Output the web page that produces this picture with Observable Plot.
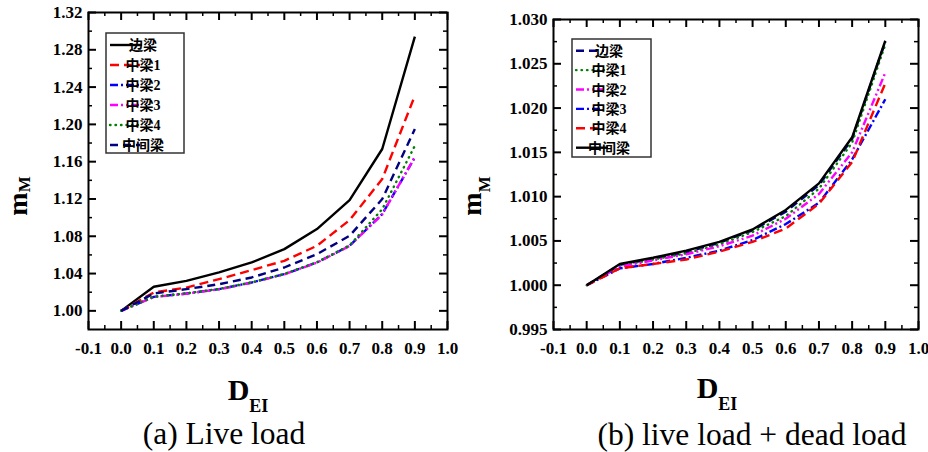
<!DOCTYPE html>
<html><head><meta charset="utf-8">
<script src="https://cdn.jsdelivr.net/npm/d3@7"></script>
<script src="https://cdn.jsdelivr.net/npm/@observablehq/plot@0.6"></script>
<style>
body{margin:0;background:#fff;}
#wrap{position:relative;width:928px;height:452px;overflow:hidden;background:#fff;}
.panel{position:absolute;top:0;width:464px;height:452px;}
</style></head><body>
<div id="wrap"><div class="panel" id="pa" style="left:0"></div><div class="panel" id="pb" style="left:464px"></div></div>
<script>
// ---- data ----
const xValues = [0, 0.1, 0.2, 0.3, 0.4, 0.5, 0.6, 0.7, 0.8, 0.9];
const names = ["边梁", "中梁1", "中梁2", "中梁3", "中梁4", "中间梁"];

// (a) Live load
const a_bian  = [1.000, 1.0258, 1.0322, 1.0412, 1.0519, 1.0662, 1.0877, 1.1188, 1.1736, 1.2942];
const a_zl1   = [1.000, 1.0197, 1.0250, 1.0340, 1.0437, 1.0537, 1.0698, 1.0973, 1.1414, 1.2308];
const a_zl2   = [1.000, 1.0150, 1.0186, 1.0233, 1.0304, 1.0394, 1.0519, 1.0698, 1.1038, 1.1646];
const a_zl3   = [1.000, 1.0148, 1.0184, 1.0231, 1.0302, 1.0392, 1.0517, 1.0696, 1.1035, 1.1650];
const a_zl4   = [1.000, 1.0152, 1.0188, 1.0235, 1.0306, 1.0396, 1.0521, 1.0702, 1.1090, 1.1770];
const a_zj    = [1.000, 1.0186, 1.0233, 1.0286, 1.0358, 1.0465, 1.0608, 1.0805, 1.1199, 1.1951];

// (b) live load + dead load
const b_bian  = [1.000, 1.0023, 1.0030, 1.0037, 1.0048, 1.0062, 1.0083, 1.0113, 1.0165, 1.0275];
const b_zl1   = [1.000, 1.0022, 1.0029, 1.0036, 1.0046, 1.0060, 1.0078, 1.0109, 1.0161, 1.0272];
const b_zl2   = [1.000, 1.0021, 1.0028, 1.0035, 1.0044, 1.0056, 1.0075, 1.0103, 1.0150, 1.0240];
const b_zl3   = [1.000, 1.0019, 1.0024, 1.0031, 1.0039, 1.0051, 1.0069, 1.0093, 1.0142, 1.0210];
const b_zl4   = [1.000, 1.0019, 1.0024, 1.0029, 1.0038, 1.0049, 1.0064, 1.0092, 1.0139, 1.0228];
const b_zj    = [1.000, 1.0024, 1.0031, 1.0039, 1.0049, 1.0063, 1.0085, 1.0115, 1.0167, 1.0276];

const xTicks = [-0.1, 0, 0.1, 0.2, 0.3, 0.4, 0.5, 0.6, 0.7, 0.8, 0.9, 1.0];
const xMinor = [-0.05, 0.05, 0.15, 0.25, 0.35, 0.45, 0.55, 0.65, 0.75, 0.85, 0.95];
const aYTicks = [1.00, 1.04, 1.08, 1.12, 1.16, 1.20, 1.24, 1.28, 1.32];
const aYMinor = [1.02, 1.06, 1.10, 1.14, 1.18, 1.22, 1.26, 1.30];
const bYTicks = [0.995, 1.000, 1.005, 1.010, 1.015, 1.020, 1.025, 1.030];
const bYMinor = [0.9975, 1.0025, 1.0075, 1.0125, 1.0175, 1.0225, 1.0275];

// styles
const S = {
  black:   {stroke: "#000000", dash: null},
  red:     {stroke: "#ff0000", dash: "9,5"},
  blue:    {stroke: "#0000ff", dash: "8,3,2,3"},
  magenta: {stroke: "#ff00ff", dash: "8,3,2,3,2,3"},
  green:   {stroke: "#008000", dash: "0.5,5"},
  navy:    {stroke: "#000080", dash: "8,5"}
};

const panelA = {
  el: "#pa", W: 464, H: 452, mL: 88, mR: 17, mT: 12, mB: 123,
  yDomain: [0.98, 1.32], yTicks: aYTicks, yMinor: aYMinor, yFmt: d => d.toFixed(2),
  series: [[a_bian, "black"], [a_zl1, "red"], [a_zl2, "blue"], [a_zl3, "magenta"], [a_zl4, "green"], [a_zj, "navy"]],
  legend: {x: 106, y: 33, w: 78, h: 120, row0: 45, step: 20, lx1: 110, lx2: 140, tx: 142},
  ylab: {x: 27, y: 196, sub: 3}, xlab: {x: 248, y: 400}, cap: {x: 224, y: 444, text: "(a) Live load"}
};
const panelB = {
  el: "#pb", W: 464, H: 452, mL: 89, mR: 10, mT: 19, mB: 123,
  yDomain: [0.995, 1.030], yTicks: bYTicks, yMinor: bYMinor, yFmt: d => d.toFixed(3),
  series: [[b_bian, "navy"], [b_zl1, "green"], [b_zl2, "magenta"], [b_zl3, "blue"], [b_zl4, "red"], [b_zj, "black"]],
  legend: {x: 108, y: 39, w: 79, h: 118, row0: 50.7, step: 19.4, lx1: 112, lx2: 140, tx: 144},
  ylab: {x: 17, y: 196, sub: 9}, xlab: {x: 253, y: 398}, cap: {x: 288, y: 445, text: "(b) live load + dead load"}
};

function draw(p) {
  const iw = p.W - p.mL - p.mR, ih = p.H - p.mT - p.mB;
  const major = 8, minor = 4;
  const lines = p.series.map(([vals, st], i) => {
    const data = xValues.map((x, j) => ({x, y: vals[j]}));
    return Plot.line(data, {x: "x", y: "y", stroke: S[st].stroke, strokeWidth: 2.4,
      strokeDasharray: S[st].dash, strokeLinecap: st === "green" ? "round" : "butt", strokeLinejoin: "round"});
  });
  const tk = {stroke: "black"};
  const marks = [
    ...lines,
    Plot.tickX(xTicks, {x: d => d, insetTop: ih - major, strokeWidth: 2, ...tk}),
    Plot.tickX(xTicks, {x: d => d, insetBottom: ih - major, strokeWidth: 2, ...tk}),
    Plot.tickX(xMinor, {x: d => d, insetTop: ih - minor, strokeWidth: 1.5, ...tk}),
    Plot.tickX(xMinor, {x: d => d, insetBottom: ih - minor, strokeWidth: 1.5, ...tk}),
    Plot.tickY(p.yTicks, {y: d => d, insetRight: iw - major, strokeWidth: 2, ...tk}),
    Plot.tickY(p.yTicks, {y: d => d, insetLeft: iw - major, strokeWidth: 2, ...tk}),
    Plot.tickY(p.yMinor, {y: d => d, insetRight: iw - minor, strokeWidth: 1.5, ...tk}),
    Plot.tickY(p.yMinor, {y: d => d, insetLeft: iw - minor, strokeWidth: 1.5, ...tk}),
    Plot.frame({stroke: "black", strokeWidth: 2}),
    Plot.axisX(xTicks, {tickSize: 0, tickPadding: 12, tickFormat: d => d.toFixed(1), fontSize: 17, fontWeight: "bold", fill: "black", label: null}),
    Plot.axisY(p.yTicks, {tickSize: 0, tickPadding: 6, tickFormat: p.yFmt, fontSize: 17, fontWeight: "bold", fill: "black", label: null})
  ];
  const svg = Plot.plot({
    width: p.W, height: p.H, marginLeft: p.mL, marginRight: p.mR, marginTop: p.mT, marginBottom: p.mB,
    x: {domain: [-0.1, 1.0]}, y: {domain: p.yDomain},
    style: {fontFamily: "'Liberation Serif', 'Times New Roman', serif", background: "white", overflow: "visible", color: "black"},
    marks
  });
  document.querySelector(p.el).appendChild(svg);
  const g = d3.select(svg).append("g");
  // legend
  const L = p.legend;
  g.append("rect").attr("x", L.x).attr("y", L.y).attr("width", L.w).attr("height", L.h)
    .attr("fill", "white").attr("stroke", "#333").attr("stroke-width", 1.5);
  p.series.forEach(([vals, st], i) => {
    const y = L.row0 + i * L.step;
    const solid = st === "black";
    g.append("line").attr("x1", L.lx1).attr("x2", solid ? L.tx : L.lx2).attr("y1", y).attr("y2", y)
      .attr("stroke", S[st].stroke).attr("stroke-width", 2.4)
      .attr("stroke-dasharray", S[st].dash).attr("stroke-linecap", st === "green" ? "round" : "butt");
    g.append("text").attr("x", L.tx + 1).attr("y", y).attr("dy", "0.36em")
      .attr("font-family", "'Liberation Serif', 'Noto Sans CJK SC', serif").attr("font-weight", "bold")
      .attr("font-size", 14).attr("fill", "black").text(names[i]);
  });
  // y label m_M
  const yl = g.append("text").attr("transform", `translate(${p.ylab.x},${p.ylab.y}) rotate(-90)`)
    .attr("text-anchor", "middle").attr("font-family", "'Liberation Serif', serif").attr("font-weight", "bold").attr("fill", "black");
  yl.append("tspan").attr("font-size", 28).text("m");
  yl.append("tspan").attr("font-size", 17).attr("dy", p.ylab.sub).text("M");
  // x label D_EI
  const xl = g.append("text").attr("x", p.xlab.x).attr("y", p.xlab.y)
    .attr("font-family", "'Liberation Serif', serif").attr("font-weight", "bold").attr("fill", "black");
  xl.append("tspan").attr("font-size", 30).text("D");
  xl.append("tspan").attr("font-size", 18).attr("dy", 12).text("EI");
  // caption
  g.append("text").attr("x", p.cap.x).attr("y", p.cap.y).attr("text-anchor", "middle")
    .attr("font-family", "'Liberation Serif', serif").attr("font-size", 31.5).attr("fill", "black").text(p.cap.text);
}
draw(panelA);
draw(panelB);
</script>
</body></html>
